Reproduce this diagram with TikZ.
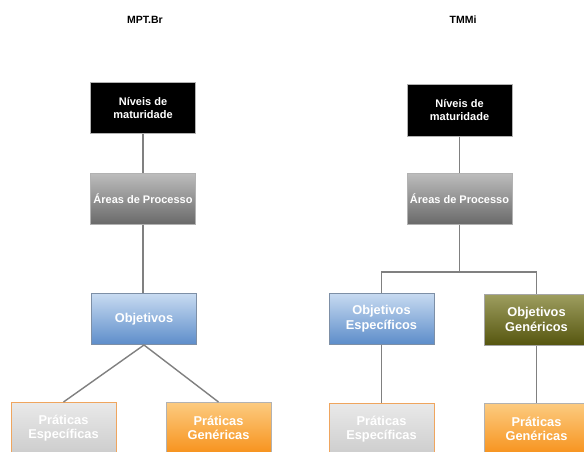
\documentclass[tikz,border=0pt]{standalone}
\usepackage{fontspec}
\setmainfont{Liberation Sans}
\begin{document}
\begin{tikzpicture}[x=1pt,y=-1pt,
  box/.style={rectangle, draw=#1, line width=1pt, minimum width=105pt, minimum height=51pt,
     inner sep=2pt, align=center, text=white, font=\fontsize{12.8}{14.5}\selectfont\bfseries},
  blackbox/.style={box=gray!60, fill=black, font=\fontsize{11}{13}\selectfont\bfseries},
  graybox/.style={box=gray!60, top color=graytop, bottom color=graybot,
     font=\fontsize{11}{13}\selectfont\bfseries},
  bluebox/.style={box=blueframe, top color=bluetop, bottom color=bluebot},
  olivebox/.style={box=gray!70, top color=olivetop, bottom color=olivebot},
  orangebox/.style={box=gray!60, top color=orangetop, bottom color=orangebot},
  lightbox/.style={box=lightframe, top color=lighttop, bottom color=lightbot},
  title/.style={font=\fontsize{10.5}{12}\selectfont\bfseries, text=black},
  link/.style={draw=linegray, line width=1.4pt}
]
\definecolor{graytop}{HTML}{BDBDBD}
\definecolor{graybot}{HTML}{6A6A6A}
\definecolor{bluetop}{HTML}{C8DBF1}
\definecolor{bluebot}{HTML}{5D8DCA}
\definecolor{blueframe}{HTML}{7D8FA6}
\definecolor{olivetop}{HTML}{9E9E60}
\definecolor{olivebot}{HTML}{56560F}
\definecolor{orangetop}{HTML}{FCCB80}
\definecolor{orangebot}{HTML}{F7921C}
\definecolor{lighttop}{HTML}{E9E9E9}
\definecolor{lightbot}{HTML}{CDCDCD}
\definecolor{lightframe}{HTML}{EFA55E}
\definecolor{linegray}{HTML}{808080}
\useasboundingbox (0,0) rectangle (584,452);
\clip (0,0) rectangle (584,452);
\fill[white] (0,0) rectangle (584,452);

% left: MPT.Br
\node[title] (t1) at (145,20) {MPT.Br};
\node[blackbox] (n1) at (143,108) {Níveis de\\maturidade};
\node[graybox] (a1) at (143,198.5) {Áreas de Processo};
\node[bluebox] (o1) at (144,319) {Objetivos};
\node[lightbox] (pe1) at (63.5,428) {Práticas\\Específicas};
\node[orangebox] (pg1) at (218.5,428) {Práticas\\Genéricas};
\draw[link] (n1.south) -- (a1.north);
\draw[link] (a1.south) -- (a1.south |- o1.north);
\draw[link] (o1.south) -- (pe1.north);
\draw[link] (o1.south) -- (pg1.north);

% right: TMMi
\node[title] (t2) at (463,20) {TMMi};
\node[blackbox] (n2) at (459.5,110.5) {Níveis de\\maturidade};
\node[graybox] (a2) at (459.5,198.5) {Áreas de Processo};
\node[bluebox] (oe2) at (381.5,318.5) {Objetivos\\Específicos};
\node[olivebox] (og2) at (536.5,319.5) {Objetivos\\Genéricos};
\node[lightbox] (pe2) at (381.5,429) {Práticas\\Específicas};
\node[orangebox] (pg2) at (536.5,429) {Práticas\\Genéricas};
\coordinate (j2) at (a2.south |- 0,272);
\draw[link] (n2.south) -- (a2.north);
\draw[link] (a2.south) -- (j2);
\draw[link] (oe2.north) |- (j2) -| (og2.north);
\draw[link] (oe2.south) -- (pe2.north);
\draw[link] (og2.south) -- (pg2.north);
\end{tikzpicture}
\end{document}
